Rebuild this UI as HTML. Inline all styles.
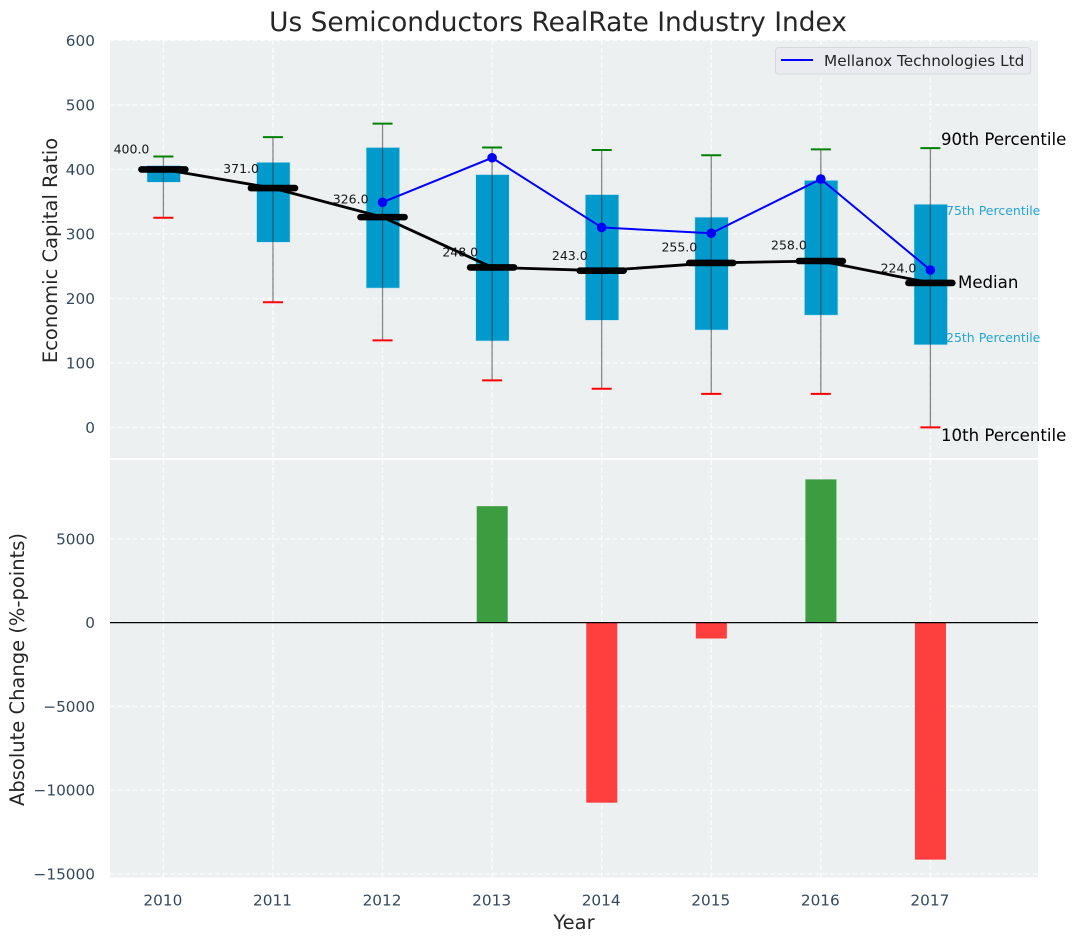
<!DOCTYPE html>
<html lang="en">
<head>
<meta charset="utf-8">
<title>Us Semiconductors RealRate Industry Index</title>
<style>
html,body{margin:0;padding:0;background:#fff;}
svg{display:block;font-family:"DejaVu Sans","Liberation Sans",sans-serif;}
</style>
</head>
<body>
<svg id="chart" width="1076" height="942" viewBox="0 0 1076 942" xmlns="http://www.w3.org/2000/svg">
  <rect x="110" y="40" width="928" height="418" fill="#ecf0f1"/>
  <rect x="110" y="460" width="928" height="417.5" fill="#ecf0f1"/>
  <g id="grid"></g>
  <g id="boxes"></g>
  <g id="lines"></g>
  <g id="bars"></g>
  <g id="ticks"></g>
  <text x="558" y="31" text-anchor="middle" font-size="26.4" fill="#262626">Us Semiconductors RealRate Industry Index</text>
  <text transform="translate(57 250.5) rotate(-90)" text-anchor="middle" font-size="19.5" fill="#262626">Economic Capital Ratio</text>
  <text transform="translate(24 669.5) rotate(-90)" text-anchor="middle" font-size="19.5" fill="#262626">Absolute Change (%-points)</text>
  <text x="574" y="929" text-anchor="middle" font-size="19.5" fill="#262626">Year</text>
  <g>
    <text x="941" y="145" font-size="16.6" fill="#000">90th Percentile</text>
    <text x="946" y="215" font-size="12.5" fill="#0099cc" fill-opacity="0.85">75th Percentile</text>
    <text x="958" y="288" font-size="16.6" fill="#000">Median</text>
    <text x="946" y="342" font-size="12.5" fill="#0099cc" fill-opacity="0.85">25th Percentile</text>
    <text x="941" y="441" font-size="16.6" fill="#000">10th Percentile</text>
  </g>
  <g>
    <rect x="775.5" y="47.5" width="255" height="26.5" rx="3" fill="#e9ebf0" stroke="#d6d8dc" stroke-width="1"/>
    <line x1="781" y1="60" x2="813" y2="60" stroke="#0000ff" stroke-width="2"/>
    <text x="824" y="66" font-size="15.3" fill="#262626">Mellanox Technologies Ltd</text>
  </g>
</svg>
<script>
const years = [2010, 2011, 2012, 2013, 2014, 2015, 2016, 2017];
const p90 = [420, 450, 471, 434, 430, 422, 431, 433];
const p75 = [406, 411, 434, 392, 361, 326, 383, 346];
const medians = [400, 371, 326, 248, 243, 255, 258, 224];
const p25 = [380, 287, 216, 134, 166, 151, 174, 128];
const p10 = [325, 194, 135, 73, 60, 52, 52, 0];
const companyYears = [2012, 2013, 2014, 2015, 2016, 2017];
const companyValues = [349, 418, 310, 301, 385, 244];
const changeYears = [2013, 2014, 2015, 2016, 2017];
const changeValues = [6950, -10750, -950, 8550, -14150];
const topTicks = [0, 100, 200, 300, 400, 500, 600];
const bottomTicks = [-15000, -10000, -5000, 0, 5000];

const NS = 'http://www.w3.org/2000/svg';
const xScale = y => 163.4 + (y - 2010) * 109.57;
const yTop = v => 427.4 - v * 0.645;
const yBottom = v => 622.6 - v * 0.01675;

function make(parent, tag, attrs, text) {
  const el = document.createElementNS(NS, tag);
  for (const k in attrs) el.setAttribute(k, attrs[k]);
  if (text !== undefined) el.textContent = text;
  parent.appendChild(el);
  return el;
}
const grid = document.getElementById('grid');
const boxes = document.getElementById('boxes');
const lines = document.getElementById('lines');
const bars = document.getElementById('bars');
const ticks = document.getElementById('ticks');
const gridStyle = { stroke: '#ffffff', 'stroke-width': 1.4, 'stroke-dasharray': '5 2.5', 'stroke-opacity': 0.75 };

topTicks.forEach(t => {
  const g = make(grid, 'line', Object.assign({ x1: 110, x2: 1038, y1: yTop(t), y2: yTop(t) }, gridStyle));
  
  
  const l = make(ticks, 'text', { x: 95, y: yTop(t) + 5.5, 'text-anchor': 'end', 'font-size': 15.3, fill: '#34495e' }, String(t));
  
  
});
bottomTicks.forEach(t => {
  const g = make(grid, 'line', Object.assign({ x1: 110, x2: 1038, y1: yBottom(t), y2: yBottom(t) }, gridStyle));
  
  
  const l = make(ticks, 'text', { x: 95, y: yBottom(t) + 5.5, 'text-anchor': 'end', 'font-size': 15.3, fill: '#34495e' }, String(t).replace('-', '\u2212'));
  
  
});
years.forEach(y => {
  const a = make(grid, 'line', Object.assign({ x1: xScale(y), x2: xScale(y), y1: 40, y2: 458 }, gridStyle));
  
  
  const b = make(grid, 'line', Object.assign({ x1: xScale(y), x2: xScale(y), y1: 460, y2: 877.5 }, gridStyle));
  
  
  const l = make(ticks, 'text', { x: xScale(y) - 0.5, y: 905.5, 'text-anchor': 'middle', 'font-size': 15.3, fill: '#34495e' }, String(y));
  
  
});

years.forEach((y, i) => {
  const x = xScale(y);
  const box = make(boxes, 'rect', { x: x - 16.4, width: 33.5, y: yTop(p75[i]), height: yTop(p25[i]) - yTop(p75[i]), fill: '#009bcc', stroke: '#bfe3ef', 'stroke-width': 0.6 });
  
  
  const w = make(boxes, 'line', { x1: x, x2: x, y1: yTop(p90[i]), y2: yTop(p10[i]), stroke: '#2b2b2b', 'stroke-width': 1.3, 'stroke-opacity': 0.55 });
  
  
  const hi = make(boxes, 'line', { x1: x - 10, x2: x + 10, y1: yTop(p90[i]), y2: yTop(p90[i]), stroke: '#008000', 'stroke-width': 2 });
  
  
  const lo = make(boxes, 'line', { x1: x - 10, x2: x + 10, y1: yTop(p10[i]), y2: yTop(p10[i]), stroke: '#ff0000', 'stroke-width': 2 });
  
  
});

const medianPath = make(lines, 'polyline', { points: years.map((y, i) => xScale(y) + ',' + yTop(medians[i])).join(' '), fill: 'none', stroke: '#000', 'stroke-width': 2.8 });


years.forEach((y, i) => {
  const x = xScale(y);
  const m = make(lines, 'line', { x1: x - 22, x2: x + 22, y1: yTop(medians[i]), y2: yTop(medians[i]), stroke: '#000', 'stroke-width': 6.6, 'stroke-linecap': 'round' });
  
  
});
const companyPath = make(lines, 'polyline', { points: companyYears.map((y, i) => xScale(y) + ',' + yTop(companyValues[i])).join(' '), fill: 'none', stroke: '#0000ff', 'stroke-width': 2 });


companyYears.forEach((y, i) => {
  const c = make(lines, 'circle', { cx: xScale(y), cy: yTop(companyValues[i]), r: 4.8, fill: '#0000ff' });
  
  
});
years.forEach((y, i) => {
  const l = make(lines, 'text', { x: xScale(y) - 14, y: yTop(medians[i] * 1.05) - 3, 'text-anchor': 'end', 'font-size': 12.5, fill: '#000', 'fill-opacity': 0.9 }, medians[i].toFixed(1));
  
  
});

changeYears.forEach((y, i) => {
  const v = changeValues[i];
  const top = Math.min(yBottom(v), yBottom(0));
  const r = make(bars, 'rect', { x: xScale(y) - 15.4, width: 31, y: top, height: Math.abs(yBottom(v) - yBottom(0)), fill: v >= 0 ? '#3b9d3f' : '#ff3e3e' });
  
  
});
const zero = make(bars, 'line', { x1: 110, x2: 1038, y1: yBottom(0), y2: yBottom(0), stroke: '#000', 'stroke-width': 1.3 });


</script>
</body>
</html>
